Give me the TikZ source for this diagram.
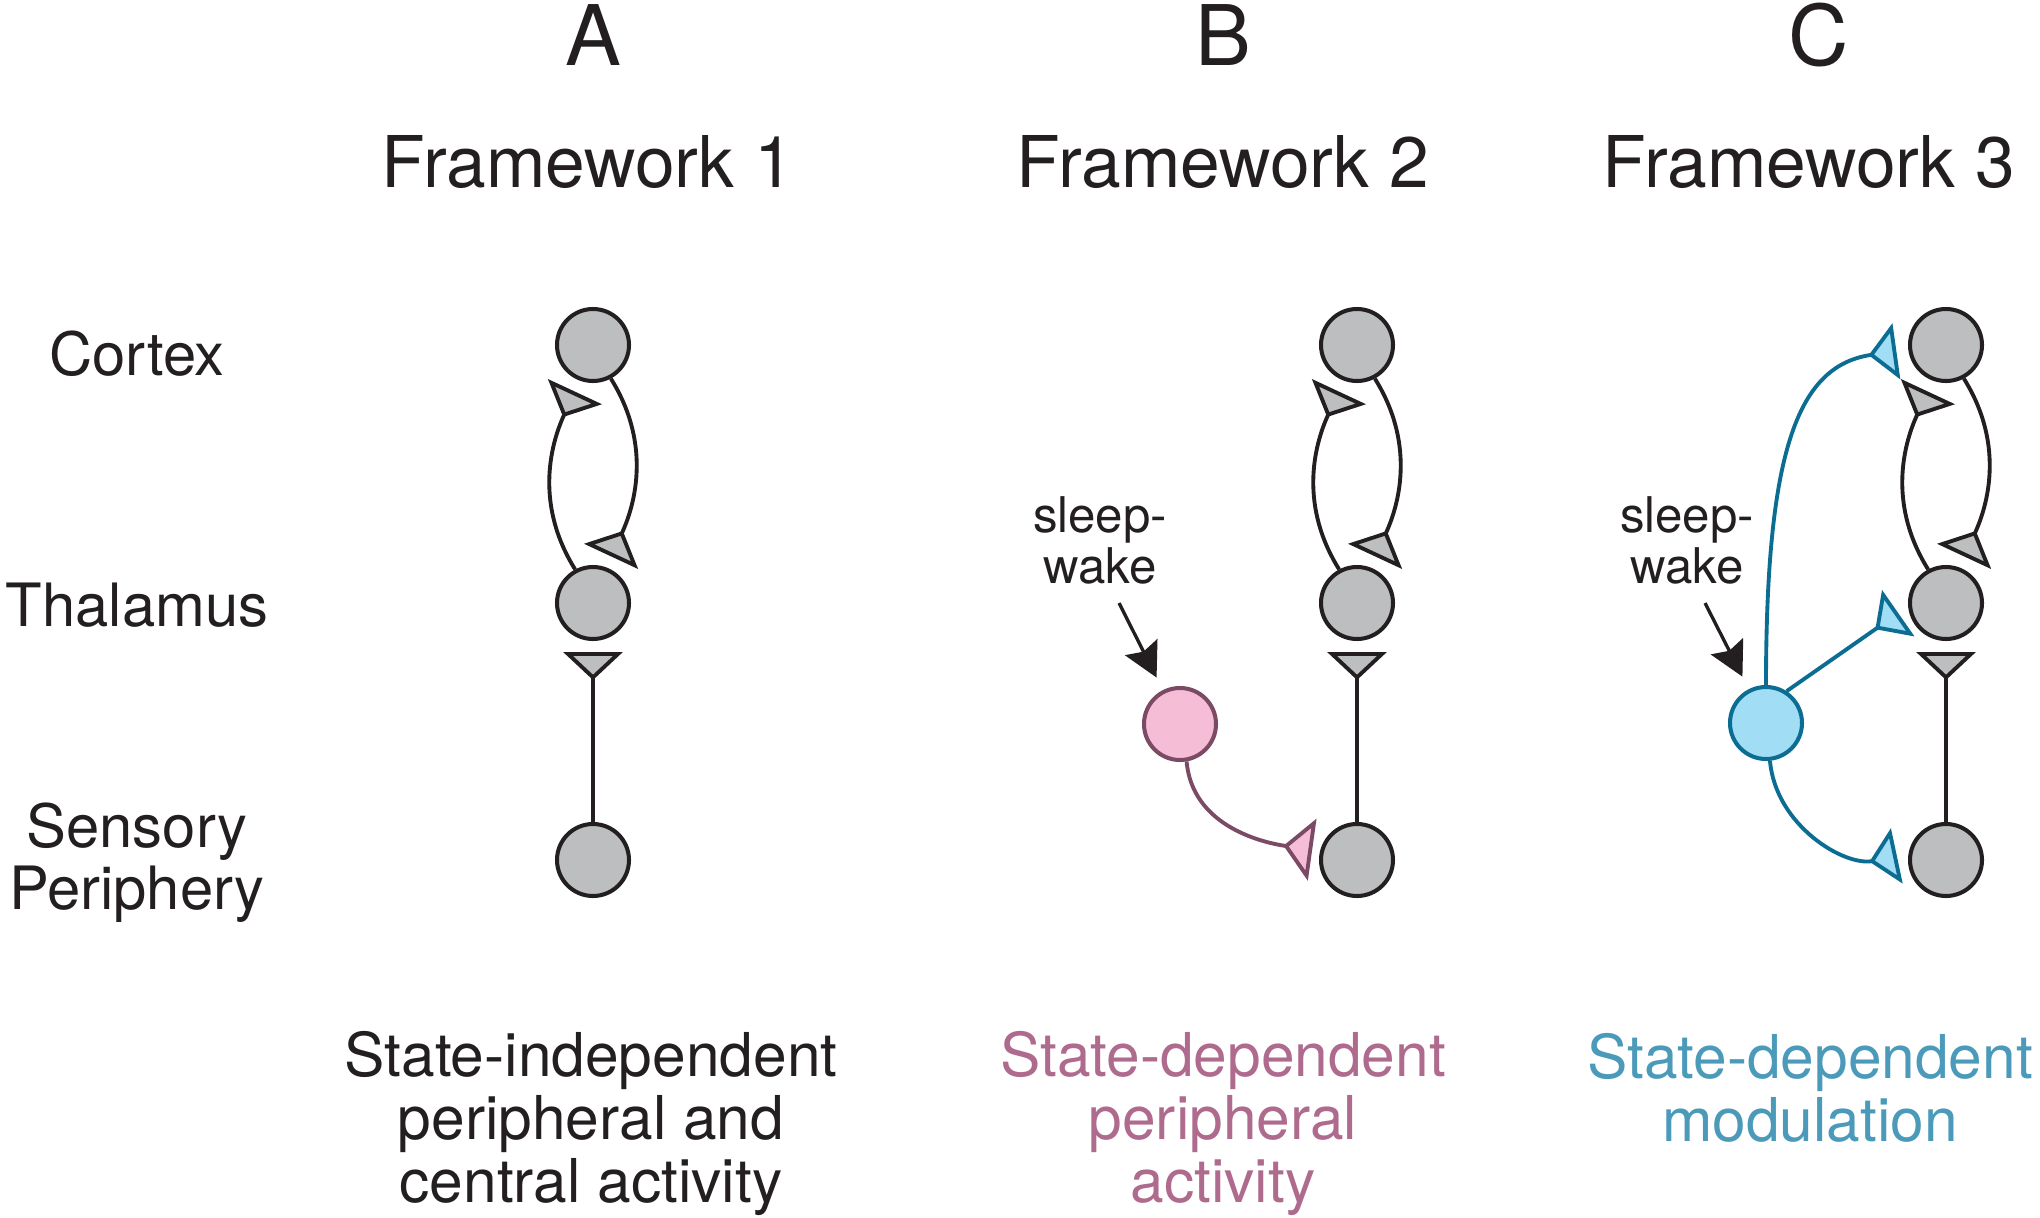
\documentclass[tikz,border=0pt]{standalone}
\usepackage{fontspec}
\setmainfont{TeX Gyre Heros}
\usepackage{tikz}
\usetikzlibrary{positioning, arrows.meta}

\definecolor{ink}{HTML}{231F20}
\definecolor{cellgray}{HTML}{BCBEC0}
\definecolor{pinkfill}{HTML}{F6BDD6}
\definecolor{pinkline}{HTML}{7B4A65}
\definecolor{pinktext}{HTML}{AF6B8D}
\definecolor{bluefill}{HTML}{A2DDF6}
\definecolor{blueline}{HTML}{0C6D93}
\definecolor{bluetext}{HTML}{4B9ABA}

\begin{document}
\begin{tikzpicture}[
  cell/.style={circle, draw=ink, fill=cellgray, line width=1.15pt, minimum size=0.72cm, inner sep=0pt},
  syn/.style={draw=ink, line width=1.1pt, -{Triangle[reversed, length=0.28cm, width=0.59cm, fill=cellgray]}, shorten >=0.12cm},
  synpink/.style={syn, draw=pinkline, -{Triangle[reversed, length=0.29cm, width=0.62cm, fill=pinkfill]}, shorten >=0.08cm},
  synblue/.style={syn, draw=blueline, -{Triangle[reversed, length=0.28cm, width=0.56cm, fill=bluefill]}},
  pointer/.style={draw=ink, line width=0.95pt, -{Stealth[length=0.34cm, width=0.36cm, inset=0.05cm]}, shorten >=0.14cm},
  letter/.style={anchor=base, text=ink, font=\fontsize{23.8}{28}\selectfont},
  title/.style={anchor=base, text=ink, font=\fontsize{20.3}{24}\selectfont},
  rowlabel/.style={anchor=base, align=center, text=ink, font=\fontsize{17}{17.4}\selectfont},
  caption/.style={anchor=base, align=center, font=\fontsize{17.2}{17.9}\selectfont},
  swlabel/.style={anchor=base, align=center, text=ink, font=\fontsize{14}{12.8}\selectfont}
]
\useasboundingbox (0,0) rectangle (20.4,-12.18);

% row labels (multi-line nodes sit on their last line)
\node[rowlabel] (cortex) at (1.37,-3.75) {Cortex};
\node[rowlabel] (thalamus) at (1.37,-6.26) {Thalamus};
\node[rowlabel] (periphery) at (1.37,-9.09) {Sensory\\Periphery};

% headings
\node[letter] (letA) at (5.93,-0.65) {A};
\node[title] (fwA) at (5.88,-1.87) {Framework 1};
\node[letter] (letB) at (12.23,-0.65) {B};
\node[title] (fwB) at (12.23,-1.87) {Framework 2};
\node[letter] (letC) at (18.19,-0.65) {C};
\node[title] (fwC) at (18.09,-1.87) {Framework 3};

% panel A
\node[cell] (ctxA) at (5.93,-3.45) {};
\node[cell] (thalA) at (5.93,-6.03) {};
\node[cell] (perA) at (5.93,-8.60) {};
\draw[syn] (thalA.118) to[out=122, in=245] (ctxA.250);
\draw[syn] (ctxA.-62) to[out=-58, in=65] (thalA.70);
\draw[syn, shorten >=0.11cm] (perA) -- (thalA);

% panel B
\node[cell] (ctxB) at (13.57,-3.45) {};
\node[cell] (thalB) at (13.57,-6.03) {};
\node[cell] (perB) at (13.57,-8.60) {};
\draw[syn] (thalB.118) to[out=122, in=245] (ctxB.250);
\draw[syn] (ctxB.-62) to[out=-58, in=65] (thalB.70);
\draw[syn, shorten >=0.11cm] (perB) -- (thalB);
\node[cell, draw=pinkline, fill=pinkfill] (stateB) at (11.80,-7.24) {};
\draw[synpink] (stateB.-80) to[out=-85, in=172] (perB.166);
\node[swlabel] (swB) at (11.00,-5.83) {sleep-\\wake};
\coordinate (swBtail) at (11.19,-6.03);
\draw[pointer] (swBtail) -- (stateB);

% panel C
\node[cell] (ctxC) at (19.46,-3.45) {};
\node[cell] (thalC) at (19.46,-6.03) {};
\node[cell] (perC) at (19.46,-8.60) {};
\draw[syn] (thalC.118) to[out=122, in=245] (ctxC.250);
\draw[syn] (ctxC.-62) to[out=-58, in=65] (thalC.70);
\draw[syn, shorten >=0.11cm] (perC) -- (thalC);
\node[cell, draw=blueline, fill=bluefill] (stateC) at (17.66,-7.23) {};
\draw[synblue] (stateC.90) .. controls +(90:2.4) and +(188:1.1) .. (ctxC.187);
\draw[synblue] (stateC.57) -- (thalC.185);
\draw[synblue] (stateC.-84) to[out=-85, in=192] (perC.170);
\node[swlabel] (swC) at (16.87,-5.83) {sleep-\\wake};
\coordinate (swCtail) at (17.05,-6.03);
\draw[pointer] (swCtail) -- (stateC);

% captions
\node[caption, text=ink] (capA) at (5.91,-12.02) {State-independent\\peripheral and\\central activity};
\node[caption, text=pinktext] (capB) at (12.23,-12.02) {State-dependent\\peripheral\\activity};
\node[caption, text=bluetext] (capC) at (18.10,-11.41) {State-dependent\\modulation};
\end{tikzpicture}
\end{document}
